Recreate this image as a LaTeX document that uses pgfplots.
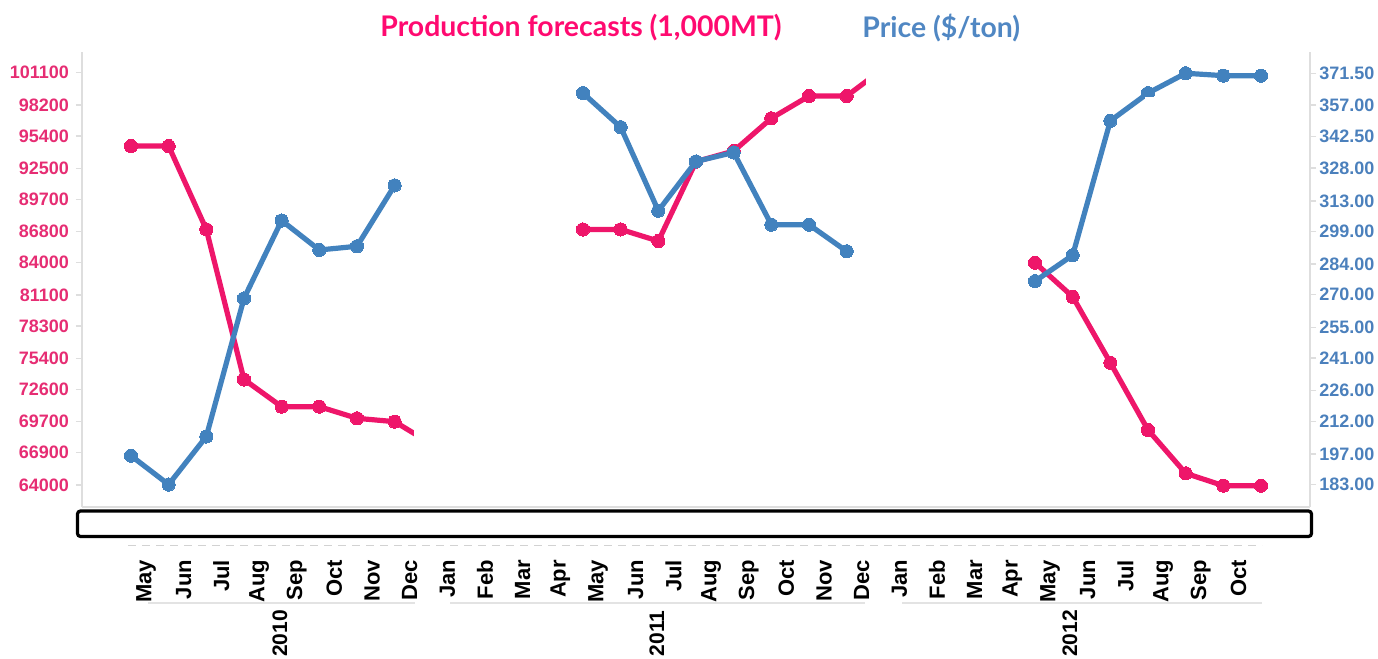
\documentclass[border=0pt]{standalone}
\usepackage{fontspec}
\setmainfont{Liberation Sans}
\newfontfamily\titlefont{Lato}
\usepackage{pgfplots}
\pgfplotsset{compat=1.18}
\definecolor{cred}{RGB}{238,22,106}
\definecolor{cblue}{RGB}{66,130,190}
\definecolor{credtxt}{RGB}{230,45,115}
\definecolor{cbluetxt}{RGB}{75,128,188}
\definecolor{ctitlered}{RGB}{255,10,112}
\definecolor{ctitleblue}{RGB}{80,135,195}
\definecolor{cgrid}{RGB}{222,222,222}

\pgfplotsset{
  common/.style={
    at={(41pt,-253.5pt)}, anchor=south west,
    scale only axis, width=614pt, height=227.5pt,
    xmin=-1.30, xmax=31.30,
    clip=false,
    unbounded coords=jump,
    axis line style={cgrid, line width=0.7pt},
    tick align=outside,
    major tick length=3pt,
    scaled y ticks=false,
    /pgf/number format/assume math mode=true,
  }
}

\begin{document}
\begin{tikzpicture}
\begin{scope}[x=0.5pt,y=-0.5pt]
\path[use as bounding box] (0,0) rectangle (1378,659);
\end{scope}

% ---------- Production (left axis) ----------
\begin{axis}[common,
  ymin=62020, ymax=102963,
  axis x line*=bottom, axis y line*=left,
  ytick={64000,66900,69700,72600,75400,78300,81100,84000,86800,89700,92500,95400,98200,101100},
  yticklabels={64000,66900,69700,72600,75400,78300,81100,84000,86800,89700,92500,95400,98200,101100},
  yticklabel style={font=\bfseries\fontsize{9}{9}\selectfont, text=credtxt},
  y tick style={cgrid, line width=0.7pt},
  xtick={0.4,1.4,2.4,3.4,4.4,5.4,6.4,7.4,8.4,9.4,10.4,11.4,12.4,13.4,14.4,15.4,16.4,17.4,18.4,19.4,20.4,21.4,22.4,23.4,24.4,25.4,26.4,27.4,28.4,29.4},
  xticklabels={May,Jun,Jul,Aug,Sep,Oct,Nov,Dec,Jan,Feb,Mar,Apr,May,Jun,Jul,Aug,Sep,Oct,Nov,Dec,Jan,Feb,Mar,Apr,May,Jun,Jul,Aug,Sep,Oct},
  x tick style={draw=none},
  xticklabel style={rotate=90, anchor=east, font=\bfseries\fontsize{11}{11}\selectfont, text=black},
  xticklabel shift=20pt,
]
\addplot[cred, line width=2.6pt, mark=*, mark size=3.3pt, mark options={fill=cred, draw=cred, line width=0pt}]
coordinates {
(0,94500)(1,94500)(2,87000)(3,73500)(4,71050)(5,71050)(6,70000)(7,69700)(8,67650)
(9,nan)
(12,87000)(13,87000)(14,85950)(15,93100)(16,94050)(17,97000)(18,99000)(19,99000)(20,101550)
(21,nan)
(24,84000)(25,80940)(26,75000)(27,68950)(28,65050)(29,63940)(30,63940)
};
\end{axis}

% ---------- Price (right axis) ----------
\begin{axis}[common,
  ymin=172.7, ymax=381.24,
  axis y line*=right, axis x line=none,
  ytick={183,197,212,226,241,255,270,284,299,313,328,342.5,357,371.5},
  yticklabels={183.00,197.00,212.00,226.00,241.00,255.00,270.00,284.00,299.00,313.00,328.00,342.50,357.00,371.50},
  yticklabel style={font=\bfseries\fontsize{9}{9}\selectfont, text=cbluetxt, inner xsep=1.5pt},
  y tick style={cgrid, line width=0.7pt},
  xtick=\empty,
]
\addplot[cblue, line width=2.6pt, mark=*, mark size=3.3pt, mark options={fill=cblue, draw=cblue, line width=0pt}]
coordinates {
(0,196.2)(1,183.0)(2,205.0)(3,268.3)(4,304.0)(5,290.5)(6,292.2)(7,320.1)
(8,nan)
(12,362.4)(13,346.8)(14,308.5)(15,331.1)(16,335.2)(17,302.1)(18,302.1)(19,289.9)
(20,nan)
(24,276.2)(25,288.1)(26,349.7)(27,362.4)(28,371.5)(29,370.4)(30,370.4)
};
\end{axis}

% ---------- overlays and labels (pixel coordinates) ----------
\begin{scope}[x=0.5pt,y=-0.5pt]
% white patches
\fill[white] (413.5,420) rectangle (452,462);
\fill[white] (865.5,52) rectangle (905,95);
\fill[white] (1145,96.5) rectangle (1158,110);
% black box
\draw[black, line width=1.6pt, fill=white, rounded corners=1.5pt] (77.5,511) rectangle (1311.5,536.5);
% faint category axis line
\draw[gray!35, line width=0.5pt, dash pattern=on 4pt off 3pt] (128,545.5) -- (1262,545.5);
% year group lines
\draw[gray!22, line width=0.7pt] (148,603) -- (415,603);
\draw[gray!22, line width=0.7pt] (450,603) -- (865,603);
\draw[gray!22, line width=0.7pt] (902,603) -- (1262,603);
% year labels
\node[rotate=90, inner sep=0pt, font=\bfseries\fontsize{10.5}{10.5}\selectfont] at (280,633.5) {2010};
\node[rotate=90, inner sep=0pt, font=\bfseries\fontsize{10.5}{10.5}\selectfont] at (657,633.5) {2011};
\node[rotate=90, inner sep=0pt, font=\bfseries\fontsize{10.5}{10.5}\selectfont] at (1070,633.5) {2012};
% titles
\node[anchor=west, inner sep=0pt, text=ctitlered, font=\titlefont\bfseries\fontsize{14.2}{14.2}\selectfont] at (380,28) {Production forecasts (1,000MT)};
\node[anchor=west, inner sep=0pt, text=ctitleblue, font=\titlefont\bfseries\fontsize{14.2}{14.2}\selectfont] at (862,28) {Price (\$/ton)};
\end{scope}
\end{tikzpicture}
\end{document}
